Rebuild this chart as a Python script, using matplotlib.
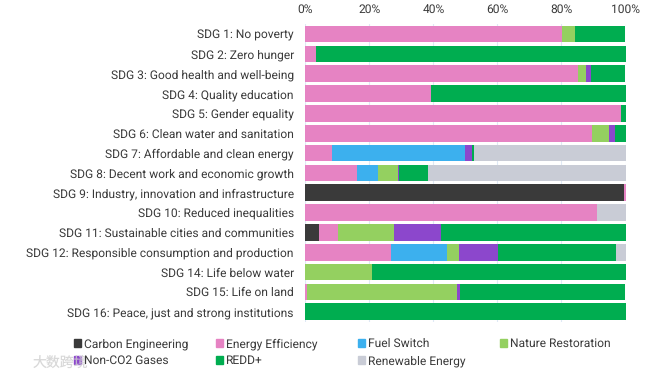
from matplotlib import pyplot as plt
from matplotlib.patches import Rectangle
import numpy as np

plt.rcParams['font.family'] = ['Roboto', 'Noto Sans CJK SC', 'DejaVu Sans']
plt.rcParams['text.hinting'] = 'no_hinting'
plt.rcParams['text.hinting_factor'] = 1

goals = ['SDG 1: No poverty', 'SDG 2: Zero hunger', 'SDG 3: Good health and well-being',
         'SDG 4: Quality education', 'SDG 5: Gender equality', 'SDG 6: Clean water and sanitation',
         'SDG 7: Affordable and clean energy', 'SDG 8: Decent work and economic growth',
         'SDG 9: Industry, innovation and infrastructure', 'SDG 10: Reduced inequalities',
         'SDG 11: Sustainable cities and communities',
         'SDG 12: Responsible consumption and production', 'SDG 14: Life below water',
         'SDG 15: Life on land', 'SDG 16: Peace, just and strong institutions']

carbon_engineering = [0, 0, 0, 0, 0, 0, 0, 0, 99.6, 0, 4.3, 0, 0, 0, 0]
energy_efficiency = [80.3, 3.4, 85.1, 39.4, 98.7, 89.6, 8.4, 16.3, 0.4, 91.0, 5.8, 26.9, 0, 0.6, 0]
fuel_switch = [0, 0, 0, 0, 0, 0, 41.5, 6.3, 0, 0, 0, 17.4, 0, 0, 0]
nature_restoration = [3.8, 0, 2.6, 0, 0, 5.2, 0, 6.2, 0, 0, 17.6, 3.6, 20.7, 46.9, 0]
non_co2 = [0, 0, 1.4, 0, 0, 1.8, 2.2, 0.6, 0, 0, 14.7, 12.4, 0, 0.7, 0]
redd = [15.9, 96.6, 10.9, 60.6, 1.3, 3.4, 0.5, 8.9, 0, 0, 57.6, 36.8, 79.3, 51.8, 100]
renewable = [0, 0, 0, 0, 0, 0, 47.4, 61.7, 0, 9.0, 0, 3.0, 0, 0, 0]

series = [('Carbon Engineering', carbon_engineering, '#3a3a3a'),
          ('Energy Efficiency', energy_efficiency, '#e683c3'),
          ('Fuel Switch', fuel_switch, '#3cb0ee'),
          ('Nature Restoration', nature_restoration, '#94d060'),
          ('Non-CO2 Gases', non_co2, '#8c47cc'),
          ('REDD+', redd, '#00ad50'),
          ('Renewable Energy', renewable, '#c9ccd6')]

W, H = 653, 376
figure = plt.figure(figsize=(W / 100, H / 100), dpi=100)
axes = figure.add_axes([305.3 / W, 1 - 321.6 / H, 320.2 / W, 297.5 / H])

positions = np.arange(len(goals))
left = np.zeros(len(goals))
for name, values, color in series:
    axes.barh(positions, values, left=left, height=0.84, color=color, zorder=3)
    left += np.array(values)

axes.set_xlim(0, 100)
axes.set_ylim(len(goals) - 0.5, -0.5)
axes.set_yticks(positions, goals)
axes.set_xticks(np.arange(0, 101, 20), [f'{v}%' for v in range(0, 101, 20)])
axes.xaxis.tick_top()
axes.tick_params(axis='both', length=0, labelsize=8.7, colors='#3a3a3a')
axes.tick_params(axis='x', pad=6)
axes.tick_params(axis='y', pad=8.3)
axes.grid(axis='x', color='#dfe9f5', linewidth=0.8, zorder=0)
for side in ['top', 'right', 'left', 'bottom']:
    axes.spines[side].set_visible(False)

figure.text(33 / W, 1 - 367 / H, '大数跨境', fontsize=10, color='#cfcfcf', alpha=0.8)

# legend by hand, the columns in the reference have equal widths
for index, (name, values, color) in enumerate(series):
    x = 73.5 + 142 * (index % 4)
    y = 342.5 + 17 * (index // 4)
    figure.add_artist(Rectangle((x / W, 1 - (y + 4.2) / H), 7.5 / W, 7.5 / H, color=color,
                                transform=figure.transFigure))
    figure.text((x + 10) / W, 1 - y / H, name, fontsize=8.7, color='#3a3a3a',
                va='center_baseline')

figure.savefig('out.png', dpi=100)
